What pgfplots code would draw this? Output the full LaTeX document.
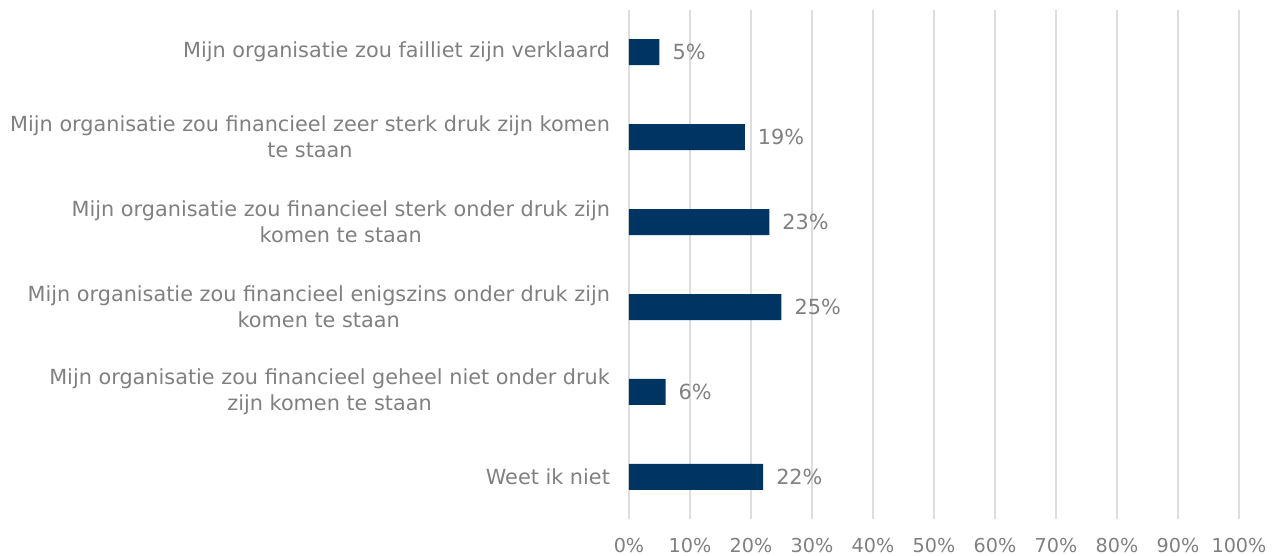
\documentclass[border=0pt]{standalone}
\usepackage{pgfplots}
\pgfplotsset{compat=1.18}
\usepackage{fontspec}
\setmainfont{DejaVu Sans}
\definecolor{barblue}{HTML}{003462}
\definecolor{txtgray}{HTML}{808080}
\definecolor{gridgray}{HTML}{DDDDDD}
\begin{document}
\begin{tikzpicture}
\path[use as bounding box] (-314.5pt,-18.25pt) rectangle (323.5pt,259.75pt);
\begin{axis}[
  at={(0,0)}, anchor=south west,
  scale only axis, width=305pt, height=255pt,
  xmin=0, xmax=100, ymin=-0.5, ymax=5.5,
  xtick={0,10,...,100},
  xticklabels={0\%,10\%,20\%,30\%,40\%,50\%,60\%,70\%,80\%,90\%,100\%},
  ytick={0,1,2,3,4,5},
  yticklabels={Weet ik niet,
    {Mijn organisatie zou financieel geheel niet onder druk\\[1.2pt]zijn komen te staan},
    {Mijn organisatie zou financieel enigszins onder druk zijn\\[1.2pt]komen te staan},
    {Mijn organisatie zou financieel sterk onder druk zijn\\[1.2pt]komen te staan},
    {Mijn organisatie zou financieel zeer sterk druk zijn komen\\[1.2pt]te staan},
    Mijn organisatie zou failliet zijn verklaard},
  yticklabel style={align=center, font=\fontsize{10.4}{11.6}\selectfont, text=txtgray, xshift=-6pt},
  xticklabel style={font=\fontsize{9.6}{11}\selectfont, text=txtgray, yshift=-6pt},
  axis line style={draw=none},
  major tick length=0pt,
  xmajorgrids, grid style={gridgray, line width=0.55pt},
  xbar, bar width=13pt,
  nodes near coords={\pgfmathprintnumber{\pgfplotspointmeta}\%},
  nodes near coords style={font=\fontsize{10.4}{11}\selectfont, text=txtgray, anchor=west, xshift=3pt},
  point meta=x,
  /pgf/number format/assume math mode=true,
  clip=false,
]
\addplot[fill=barblue, draw=none] coordinates {
  (22,0) (6,1) (25,2) (23,3) (19,4) (5,5)
};
\end{axis}
\end{tikzpicture}
\end{document}
